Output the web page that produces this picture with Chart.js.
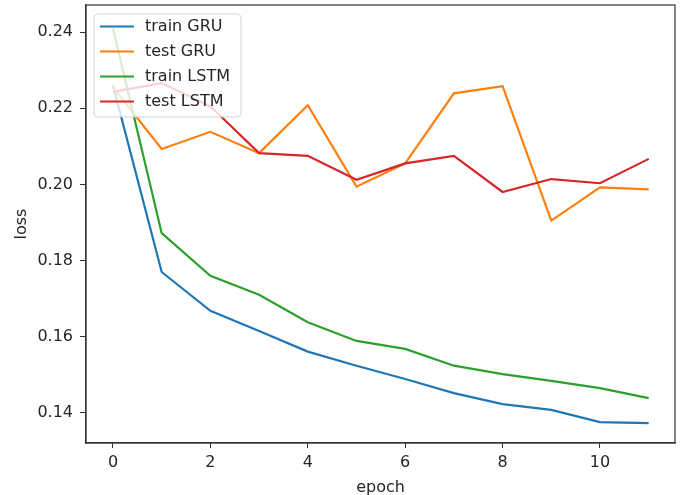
<!DOCTYPE html>
<html>
<head>
<meta charset="utf-8">
<script src="https://cdn.jsdelivr.net/npm/chart.js@4"></script>
<style>
    html, body { margin: 0; padding: 0; background: #fff; }
    #grafico { display: block; }
</style>
</head>
<body>
<canvas id="grafico" width="686" height="495"></canvas>
<script>
// Dados das curvas de perda por época
const epocas = [0, 1, 2, 3, 4, 5, 6, 7, 8, 9, 10, 11];
const trainGru = [0.2260, 0.1770, 0.1668, 0.1615, 0.1561, 0.1524, 0.1489, 0.1452, 0.1423, 0.1408, 0.1376, 0.1373];
const testGru = [0.2255, 0.2093, 0.2138, 0.2082, 0.2208, 0.1994, 0.2055, 0.2239, 0.2258, 0.1905, 0.1992, 0.1987];
const trainLstm = [0.2410, 0.1872, 0.1760, 0.1710, 0.1638, 0.1589, 0.1568, 0.1524, 0.1502, 0.1484, 0.1465, 0.1439];
const testLstm = [0.2243, 0.2266, 0.2205, 0.2082, 0.2075, 0.2012, 0.2055, 0.2075, 0.1980, 0.2014, 0.2003, 0.2067];

// Rótulos dos eixos
const ticksX = [0, 2, 4, 6, 8, 10];
const ticksY = [0.14, 0.16, 0.18, 0.20, 0.22, 0.24];
const nomesSeries = ['train GRU', 'test GRU', 'train LSTM', 'test LSTM'];
const cores = ['#1f77b4', '#ff7f0e', '#2ca02c', '#d62728'];

const fonte = { family: 'DejaVu Sans', size: 16 };
const corTexto = '#262626';

function montarSerie(i, valores) {
    return {
        label: nomesSeries[i],
        data: epocas.map((e, k) => ({ x: e, y: valores[k] })),
        borderColor: cores[i],
        backgroundColor: cores[i],
        borderWidth: 2.2,
        pointRadius: 0,
        tension: 0,
        fill: false,
        order: 4 - i // a última série fica por cima
    };
}

// Moldura completa (quatro lados) em volta da área do gráfico
const moldura = {
    id: 'moldura',
    afterDatasetsDraw(chart) {
        const { ctx, chartArea: a } = chart;
        ctx.save();
        ctx.strokeStyle = '#333';
        ctx.lineWidth = 1.2;
        ctx.strokeRect(a.left, a.top, a.right - a.left, a.bottom - a.top);
        ctx.restore();
    }
};

// Legenda desenhada dentro da área do gráfico, canto superior esquerdo
const legendaInterna = {
    id: 'legendaInterna',
    afterDraw(chart) {
        const { ctx, chartArea: a } = chart;
        const x0 = a.left + 8, y0 = a.top + 9;
        const larg = 147, alt = 103, raio = 4;
        ctx.save();
        ctx.beginPath();
        ctx.roundRect(x0, y0, larg, alt, raio);
        ctx.fillStyle = 'rgba(255,255,255,0.8)';
        ctx.fill();
        ctx.strokeStyle = 'rgba(204,204,204,0.8)';
        ctx.lineWidth = 1;
        ctx.stroke();

        ctx.font = fonte.size + 'px ' + fonte.family;
        ctx.textBaseline = 'middle';
        ctx.textAlign = 'left';
        chart.data.datasets.forEach((ds, i) => {
            const y = y0 + 12.5 + i * 25;
            ctx.beginPath();
            ctx.moveTo(x0 + 6, y);
            ctx.lineTo(x0 + 40, y);
            ctx.strokeStyle = ds.borderColor;
            ctx.lineWidth = 2.2;
            ctx.stroke();
            ctx.fillStyle = corTexto;
            ctx.fillText(ds.label, x0 + 51, y);
        });
        ctx.restore();
    }
};

const ctx = document.getElementById('grafico').getContext('2d');
new Chart(ctx, {
    type: 'line',
    data: {
        datasets: [
            montarSerie(0, trainGru),
            montarSerie(1, testGru),
            montarSerie(2, trainLstm),
            montarSerie(3, testLstm)
        ]
    },
    options: {
        responsive: false,
        animation: false,
        layout: { padding: { top: 5, right: 11, left: 0, bottom: 0 } },
        plugins: {
            legend: { display: false },
            tooltip: { enabled: false }
        },
        scales: {
            x: {
                type: 'linear',
                min: -0.554,
                max: 11.54,
                afterBuildTicks: s => { s.ticks = ticksX.map(v => ({ value: v })); },
                afterFit: s => {
                    s.height = 52;
                    s.paddingLeft = 0;
                    s.paddingRight = 0;
                },
                grid: { drawOnChartArea: false, drawTicks: true, tickLength: 5, color: '#333' },
                border: { display: true, color: '#333', width: 1.2 },
                ticks: {
                    font: fonte,
                    color: corTexto,
                    padding: 5,
                    maxRotation: 0,
                    callback: v => String(v)
                },
                title: {
                    display: true,
                    text: 'epoch',
                    font: fonte,
                    color: corTexto,
                    padding: { top: 0, bottom: -2 }
                }
            },
            y: {
                type: 'linear',
                min: 0.1321,
                max: 0.2471,
                afterBuildTicks: s => { s.ticks = ticksY.map(v => ({ value: v })); },
                afterFit: s => {
                    s.width = 86;
                    s.paddingTop = 0;
                    s.paddingBottom = 0;
                },
                grid: { drawOnChartArea: false, drawTicks: true, tickLength: 6, color: '#333' },
                border: { display: true, color: '#333', width: 1.2 },
                ticks: {
                    font: fonte,
                    color: corTexto,
                    padding: 7,
                    callback: v => v.toFixed(2)
                },
                title: {
                    display: true,
                    text: 'loss',
                    font: fonte,
                    color: corTexto,
                    padding: { top: 12, bottom: 0 }
                }
            }
        }
    },
    plugins: [moldura, legendaInterna]
});
</script>
</body>
</html>
